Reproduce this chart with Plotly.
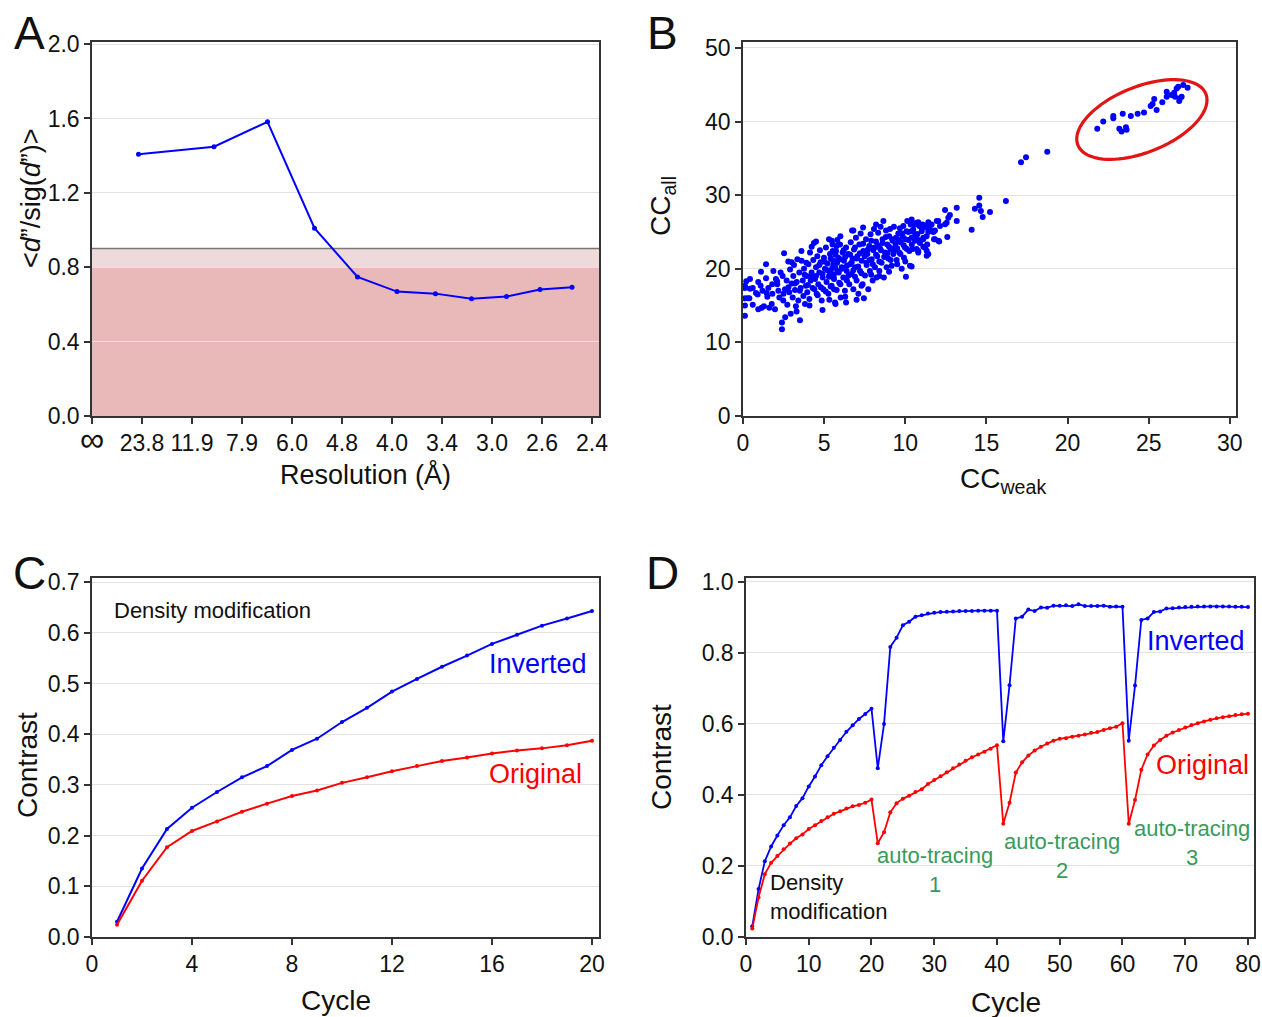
import numpy as np
import plotly.graph_objects as go

# ---------------- data ----------------
# A: resolution shells (x = inverse-resolution position, 23.8/d)
res_pos = [0.93, 2.44, 3.51, 4.45, 5.31, 6.10, 6.87, 7.59, 8.29, 8.96, 9.60]
dano_sig = [1.408, 1.448, 1.582, 1.010, 0.748, 0.669, 0.658, 0.630, 0.642, 0.680, 0.692]
res_tickvals = list(range(11))
res_ticktext = ["<span style='font-size:34px'>∞</span>", "23.8", "11.9", "7.9", "6.0", "4.8",
                "4.0", "3.4", "3.0", "2.6", "2.4"]
band_low = 0.8
band_high = 0.9

# B: CC_weak vs CC_all (main cloud, isolated points, circled solutions)
cloud = [
    (0.12, 17.7), (0.12, 17.4), (0.12, 16.0), (0.12, 15.0), (0.12, 13.6), (0.43, 18.6), (0.43, 17.3),
    (0.39, 16.0), (0.60, 15.1), (0.80, 16.7), (0.94, 18.2), (0.94, 14.5), (1.11, 19.6), (1.09, 17.7),
    (1.15, 14.7), (1.29, 14.9), (1.42, 20.6), (1.42, 18.7), (1.46, 16.7), (1.56, 17.4), (1.62, 14.7),
    (1.77, 15.2), (1.81, 16.6), (1.87, 19.7), (1.97, 14.5), (2.03, 18.6), (2.11, 17.9), (2.18, 17.0),
    (2.24, 16.1), (2.32, 19.5), (2.40, 12.7), (2.40, 11.8), (2.44, 19.0), (2.48, 15.7), (2.53, 22.1),
    (2.59, 17.2), (2.69, 18.4), (2.73, 15.1), (2.79, 21.0), (2.85, 16.8), (2.90, 19.9), (2.94, 13.9),
    (3.00, 18.0), (3.06, 16.1), (3.10, 19.0), (3.14, 20.5), (3.20, 17.1), (3.26, 14.9), (3.31, 18.2),
    (3.35, 21.3), (3.41, 15.7), (3.47, 19.5), (3.51, 13.0), (3.55, 17.4), (3.61, 21.1), (3.68, 18.4),
    (3.72, 16.3), (3.76, 20.0), (3.82, 15.2), (3.88, 17.7), (3.92, 19.0), (3.96, 16.8), (4.03, 20.6),
    (4.09, 15.9), (4.13, 22.2), (4.17, 18.4), (4.23, 19.5), (4.23, 23.0), (4.29, 17.4), (4.33, 21.2),
    (4.37, 23.5), (4.44, 18.6), (4.50, 20.2), (4.54, 16.6), (4.58, 21.7), (4.64, 17.9), (4.70, 19.5),
    (4.74, 22.5), (4.78, 20.9), (4.85, 15.7), (4.91, 18.8), (4.95, 17.2), (4.99, 21.5), (5.05, 20.0),
    (5.11, 22.9), (5.15, 18.2), (5.20, 20.7), (5.26, 16.6), (5.32, 19.1), (5.32, 15.8), (5.36, 22.0),
    (5.40, 19.7), (5.46, 17.7), (5.52, 23.3), (5.56, 21.1), (5.61, 18.6), (5.67, 20.2), (5.73, 22.4),
    (5.77, 17.1), (5.81, 23.9),
    (5.47, 23.8), (5.53, 22.4), (5.57, 20.6), (5.57, 18.8), (5.61, 17.2), (5.67, 15.4), (5.77, 23.1),
    (5.81, 19.7), (5.87, 21.5), (5.93, 18.1), (5.98, 23.3), (6.02, 16.1), (6.08, 20.2), (6.14, 22.2),
    (6.18, 18.8), (6.22, 21.1), (6.28, 17.0), (6.35, 15.4), (6.35, 22.9), (6.39, 19.7), (6.49, 22.0),
    (6.55, 17.9), (6.59, 20.6), (6.64, 23.6), (6.70, 19.3), (6.72, 25.2), (6.76, 21.4), (6.80, 17.2),
    (6.84, 22.6), (6.90, 20.2), (6.96, 24.2), (7.00, 18.4), (7.05, 21.7), (7.11, 16.6), (7.17, 23.3),
    (7.21, 19.7), (7.25, 24.8), (7.31, 21.1), (7.37, 17.9), (7.41, 22.4), (7.45, 16.0), (7.52, 19.1),
    (7.58, 24.0), (7.62, 20.5), (7.66, 22.0), (7.72, 17.2), (7.78, 23.1), (7.82, 19.7), (7.86, 24.7),
    (7.93, 21.3), (7.99, 18.4), (8.03, 22.5), (8.07, 25.4), (8.13, 20.2), (8.19, 23.7), (8.23, 18.8),
    (8.27, 21.7), (8.33, 24.9), (8.40, 19.7), (8.44, 22.8), (8.48, 25.7), (8.54, 20.8), (8.60, 24.0),
    (8.65, 26.5), (8.68, 18.8), (8.75, 22.2), (8.81, 25.2), (8.85, 20.2), (8.89, 23.3), (8.95, 21.4),
    (9.01, 24.4), (9.06, 25.4), (9.10, 22.7), (9.16, 20.4), (9.22, 23.8), (9.26, 22.0), (9.30, 25.7),
    (9.36, 22.9), (9.43, 24.2), (9.47, 21.2), (9.57, 24.8), (9.63, 22.2), (9.67, 25.5), (9.71, 23.6),
    (9.78, 20.0), (9.84, 24.4), (9.88, 25.8), (9.92, 21.5), (9.98, 22.9), (10.04, 18.9), (10.08, 25.1),
    (10.12, 26.5), (10.19, 23.9), (10.25, 22.4), (10.29, 20.4), (10.33, 26.0), (10.39, 24.2),
    (10.45, 22.7), (10.49, 25.3), (10.60, 23.8), (10.66, 26.2), (10.74, 24.7), (10.80, 22.4),
    (10.86, 25.8), (10.90, 23.5), (11.01, 25.1), (11.07, 26.0), (11.11, 24.0), (11.21, 25.6),
    (11.31, 24.4), (11.35, 23.3), (11.42, 26.0),
    (10.39, 26.7), (10.39, 25.1), (10.60, 26.0), (10.70, 24.7), (10.80, 26.3), (10.91, 23.8),
    (11.01, 25.6), (11.11, 24.2), (11.21, 25.8), (11.21, 22.9), (11.42, 26.3), (11.42, 25.0),
    (11.52, 25.4), (11.62, 26.0), (11.73, 25.0), (11.83, 24.0), (11.94, 26.5), (11.83, 25.2),
    (12.04, 23.8), (12.14, 25.8), (10.70, 22.7), (10.80, 22.2), (10.39, 20.3), (11.11, 23.0),
    (4.5, 19.0), (4.7, 20.5), (4.9, 19.3), (5.0, 21.0), (5.2, 19.8), (5.3, 18.9), (5.4, 21.4),
    (5.5, 20.1), (5.6, 19.2), (5.7, 21.9), (5.8, 20.8), (5.9, 19.5), (6.0, 21.3), (6.1, 20.0),
    (6.2, 22.5), (6.3, 21.6), (6.4, 20.4), (6.5, 19.1), (6.6, 21.9), (6.7, 20.9), (6.8, 19.8),
    (6.9, 22.9), (7.0, 21.4), (7.1, 20.3), (7.2, 22.1), (7.3, 19.4), (7.4, 23.4), (7.5, 21.7),
    (7.6, 20.8), (7.7, 22.6), (7.8, 21.2), (7.9, 23.8), (8.0, 20.6), (8.1, 22.9), (8.2, 21.9),
    (8.3, 23.2), (8.4, 21.0), (8.5, 22.5), (8.6, 23.5), (8.7, 21.6), (8.8, 24.3), (8.9, 22.1),
    (9.0, 23.0), (9.1, 21.2), (9.2, 24.0), (9.3, 22.4), (9.4, 23.4), (9.5, 22.8), (9.6, 23.9),
    (9.7, 22.0), (9.8, 24.8), (9.9, 23.2), (10.0, 24.0), (10.1, 22.7), (10.2, 25.0), (10.4, 23.3),
    (10.6, 24.5), (10.8, 23.9), (3.2, 18.0), (3.5, 17.0), (3.8, 19.2), (4.0, 17.8), (4.2, 18.9),
    (4.4, 17.2), (3.9, 20.8), (4.6, 16.4), (2.8, 17.5), (2.5, 16.6), (2.1, 18.3), (1.8, 17.9),
    (1.5, 16.2), (1.2, 17.0), (0.9, 16.5), (0.6, 17.4), (0.3, 16.0), (0.2, 18.3), (4.8, 17.5),
    (5.1, 16.9), (5.4, 17.6), (6.0, 17.9), (6.4, 18.4), (6.9, 18.9), (7.3, 17.7), (7.9, 19.2),
    (8.4, 19.0), (9.0, 19.6), (9.5, 20.6), (10.0, 21.0), (3.0, 20.9), (3.6, 22.4), (4.5, 23.7),
    (5.3, 24.0), (6.0, 24.4), (6.8, 25.2), (7.4, 25.6), (8.2, 26.0), (6.3, 16.2), (7.0, 15.8),
    (5.7, 15.2), (4.9, 14.4), (4.1, 15.0), (3.3, 14.2), (2.6, 13.4),
]
isolated = [
    (14.56, 29.64), (14.56, 28.6), (14.29, 28.15), (14.66, 27.84), (14.77, 27.03), (15.22, 27.7),
    (16.2, 29.19), (14.09, 25.31), (13.17, 28.28), (12.45, 27.97), (12.75, 27.3), (12.65, 26.93),
    (13.17, 26.49), (12.55, 26.26), (12.59, 24.32), (12.45, 26.04), (12.03, 26.49), (12.09, 23.69),
    (11.77, 24.01), (11.32, 22.43), (11.42, 21.99), (11.32, 21.76),
    (17.13, 34.46), (17.44, 35.14), (18.75, 35.9),
]
circled = [
    (21.83, 39.0), (22.2, 40.0), (22.82, 40.76), (22.82, 40.45), (23.4, 41.04), (23.19, 39.0),
    (23.33, 38.65), (23.6, 39.23), (23.64, 38.88), (23.9, 40.76), (24.32, 41.04), (24.71, 41.22),
    (25.12, 42.12), (25.24, 42.39), (25.34, 43.07), (25.49, 41.58), (25.84, 42.6), (26.11, 44.05),
    (26.11, 43.38), (26.41, 43.6), (26.57, 43.92), (26.72, 44.5), (26.82, 44.73), (26.93, 43.15),
    (26.88, 42.8), (27.03, 43.38), (27.13, 44.96), (27.4, 44.6), (26.62, 43.38),
]
# ellipse around the circled solutions (centre in data units, axes in px)
ell_center = (24.58, 40.27)
ell_a_px, ell_b_px, ell_angle = 69, 33, 22

# C: density modification, 20 cycles
cycles_c = list(range(1, 21))
inverted_c = [0.030, 0.135, 0.213, 0.255, 0.286, 0.315, 0.337, 0.369, 0.391, 0.424,
              0.452, 0.484, 0.509, 0.533, 0.555, 0.578, 0.596, 0.614, 0.628, 0.643]
original_c = [0.024, 0.111, 0.177, 0.209, 0.228, 0.247, 0.263, 0.278, 0.289, 0.304,
              0.315, 0.327, 0.337, 0.347, 0.354, 0.362, 0.368, 0.372, 0.378, 0.387]

# D: density modification + 3 rounds of auto-tracing, 80 cycles
cycles_d = list(range(1, 81))
inverted_d = inverted_c + [
    0.475, 0.600, 0.817, 0.843, 0.878, 0.888, 0.902, 0.906, 0.911, 0.913,
    0.915, 0.916, 0.917, 0.918, 0.918, 0.918, 0.919, 0.919, 0.919, 0.919,
    0.551, 0.709, 0.897, 0.902, 0.922, 0.918, 0.928, 0.927, 0.933, 0.933,
    0.934, 0.932, 0.937, 0.932, 0.932, 0.932, 0.933, 0.930, 0.931, 0.930,
    0.553, 0.708, 0.893, 0.897, 0.915, 0.917, 0.925, 0.926, 0.928, 0.929,
    0.930, 0.931, 0.931, 0.931, 0.931, 0.931, 0.931, 0.930, 0.930, 0.929]
original_d = original_c + [
    0.264, 0.295, 0.351, 0.377, 0.389, 0.398, 0.408, 0.416, 0.431, 0.442,
    0.453, 0.464, 0.475, 0.486, 0.496, 0.506, 0.514, 0.522, 0.530, 0.540,
    0.319, 0.378, 0.463, 0.492, 0.511, 0.525, 0.536, 0.545, 0.553, 0.558,
    0.560, 0.564, 0.567, 0.570, 0.575, 0.577, 0.583, 0.588, 0.592, 0.602,
    0.319, 0.386, 0.471, 0.514, 0.539, 0.555, 0.567, 0.576, 0.583, 0.590,
    0.597, 0.602, 0.607, 0.612, 0.616, 0.619, 0.622, 0.625, 0.627, 0.629]

# ---------------- figure ----------------
# page body margin is removed after plotting (post_script), so the figure fills the window
W, H = 1262, 1017
FONT = "Liberation Sans, Arial, sans-serif"
BLUE, RED, GREEN = "#0000ff", "#ff0000", "#3a9a5c"


def px(x):
    return x / W


def py(y):
    return 1 - y / H


fig = go.Figure()

line_kw = dict(mode="lines+markers", showlegend=False, hoverinfo="skip")

# A
fig.add_trace(go.Scatter(x=res_pos, y=dano_sig, xaxis="x", yaxis="y",
                         line=dict(color=BLUE, width=2), marker=dict(size=5, color=BLUE), **line_kw))
# B
pts = cloud + isolated + circled
fig.add_trace(go.Scatter(x=[p[0] for p in pts], y=[p[1] for p in pts], xaxis="x2", yaxis="y2",
                         mode="markers", marker=dict(size=6, color=BLUE), showlegend=False,
                         hoverinfo="skip"))
# C
fig.add_trace(go.Scatter(x=cycles_c, y=inverted_c, xaxis="x3", yaxis="y3",
                         line=dict(color=BLUE, width=2), marker=dict(size=4, color=BLUE), **line_kw))
fig.add_trace(go.Scatter(x=cycles_c, y=original_c, xaxis="x3", yaxis="y3",
                         line=dict(color=RED, width=2), marker=dict(size=4, color=RED), **line_kw))
# D
fig.add_trace(go.Scatter(x=cycles_d, y=inverted_d, xaxis="x4", yaxis="y4",
                         line=dict(color=BLUE, width=1.8), marker=dict(size=4, color=BLUE), **line_kw))
fig.add_trace(go.Scatter(x=cycles_d, y=original_d, xaxis="x4", yaxis="y4",
                         line=dict(color=RED, width=1.8), marker=dict(size=4, color=RED), **line_kw))

axis_common = dict(showline=True, linecolor="#333333", linewidth=1.5, mirror=True,
                   ticks="outside", ticklen=6, tickcolor="#333333", tickwidth=1.5,
                   tickfont=dict(size=23, color="#111111", family=FONT), zeroline=False,
                   automargin=False, ticklabeloverflow="allow")
xgrid = dict(showgrid=False)
ygrid = dict(showgrid=True, gridcolor="#e2e2e2", gridwidth=1.2)

top_row = [py(416), py(42)]
bot_row = [py(937), py(578)]

fig.update_layout(
    width=W, height=H, margin=dict(l=0, r=0, t=0, b=0),
    paper_bgcolor="white", plot_bgcolor="white",
    font=dict(family=FONT, color="#111111"),
    xaxis=dict(domain=[px(92), px(599)], range=[0, 10.14], tickvals=res_tickvals,
               ticktext=res_ticktext, anchor="y", **axis_common, **xgrid),
    yaxis=dict(domain=top_row, range=[0, 2.011], tickvals=[0, 0.4, 0.8, 1.2, 1.6, 2.0],
               tickformat=".1f", anchor="x", **axis_common, **ygrid),
    xaxis2=dict(domain=[px(743), px(1236)], range=[0, 30.38], dtick=5, anchor="y2",
                **axis_common, **xgrid),
    yaxis2=dict(domain=top_row, range=[0, 50.8], dtick=10, anchor="x2", **axis_common, **ygrid),
    xaxis3=dict(domain=[px(92), px(599)], range=[0, 20.28], dtick=4, anchor="y3",
                **axis_common, **xgrid),
    yaxis3=dict(domain=bot_row, range=[0, 0.708], dtick=0.1, tickformat=".1f", anchor="x3",
                **axis_common, **ygrid),
    xaxis4=dict(domain=[px(746), px(1254)], range=[0, 80.96], dtick=10, anchor="y4",
                **axis_common, **xgrid),
    yaxis4=dict(domain=bot_row, range=[0, 1.011], dtick=0.2, tickformat=".1f", anchor="x4",
                **axis_common, **ygrid),
)

shapes = [
    # A: shaded threshold bands
    dict(type="rect", xref="x domain", yref="y", x0=0, x1=1, y0=0, y1=band_low,
         fillcolor="#e9b9b9", line_width=0, layer="below"),
    dict(type="rect", xref="x domain", yref="y", x0=0, x1=1, y0=band_low, y1=band_high,
         fillcolor="#eedada", line_width=0, layer="below"),
    dict(type="line", xref="x domain", yref="y", x0=0, x1=1, y0=band_high, y1=band_high,
         line=dict(color="#777777", width=1.5), layer="below"),
]

# B: ellipse drawn in pixel space and mapped to data units
sx = (1230 - 743) / 30.0
sy = (416 - 46) / 50.0
t = np.linspace(0, 2 * np.pi, 90)
th = np.radians(ell_angle)
ex = ell_a_px * np.cos(t) * np.cos(th) - ell_b_px * np.sin(t) * np.sin(th)
ey = ell_a_px * np.cos(t) * np.sin(th) + ell_b_px * np.sin(t) * np.cos(th)
xs = ell_center[0] + ex / sx
ys = ell_center[1] + ey / sy
path = "M " + " L ".join(f"{a:.3f},{b:.3f}" for a, b in zip(xs, ys)) + " Z"
shapes.append(dict(type="path", xref="x2", yref="y2", path=path,
                   line=dict(color="#e31414", width=3.2)))
fig.update_layout(shapes=shapes)

ann = []


def label(text, x, y, size=27, angle=0, **kw):
    ann.append(dict(text=text, x=px(x), y=py(y), xref="paper", yref="paper", showarrow=False,
                    xanchor="center", yanchor="middle", textangle=angle,
                    font=dict(size=size, family=FONT, color="#111111"), **kw))


# panel letters
label("A", 29, 33, size=46)
label("B", 663, 33, size=46)
label("C", 29, 573, size=46)
label("D", 663, 573, size=46)

# axis titles
label("Resolution (Å)", 365, 474, size=27)
label("&lt;<i>d</i>”/sig(<i>d</i>”)&gt;", 31, 198, size=27, angle=-90)
label("CC<sub>weak</sub>", 1003, 480, size=28)
label("CC<sub>all</sub>", 662, 206, size=28, angle=-90)
label("Cycle", 336, 1000, size=28)
label("Contrast", 27, 765, size=28, angle=-90)
label("Cycle", 1006, 1002, size=28)
label("Contrast", 661, 757, size=28, angle=-90)


def note(text, x, y, xref, yref, color, size=22, **kw):
    ann.append(dict(text=text, x=x, y=y, xref=xref, yref=yref, showarrow=False,
                    font=dict(size=size, family=FONT, color=color), **kw))


# C annotations
note("Density modification", 0.8, 0.643, "x3", "y3", "#111111", size=22, xanchor="left")
note("Inverted", 19.88, 0.538, "x3", "y3", BLUE, size=27, xanchor="right")
note("Original", 19.68, 0.321, "x3", "y3", RED, size=27, xanchor="right")

# D annotations
note("Inverted", 79.8, 0.834, "x4", "y4", BLUE, size=27, xanchor="right")
note("Original", 80.5, 0.485, "x4", "y4", RED, size=27, xanchor="right")
note("Density<br>modification", 3.5, 0.113, "x4", "y4", "#111111", size=22,
     xanchor="left", align="left")
note("auto-tracing<br>1", 30.1, 0.19, "x4", "y4", GREEN, size=22, align="center")
note("auto-tracing<br>2", 50.4, 0.227, "x4", "y4", GREEN, size=22, align="center")
note("auto-tracing<br>3", 71.1, 0.266, "x4", "y4", GREEN, size=22, align="center")

fig.update_layout(annotations=ann)

fig.write_html("out.html", config={"displayModeBar": False},
               post_script="document.body.style.margin='0';document.body.style.overflow='hidden';")
